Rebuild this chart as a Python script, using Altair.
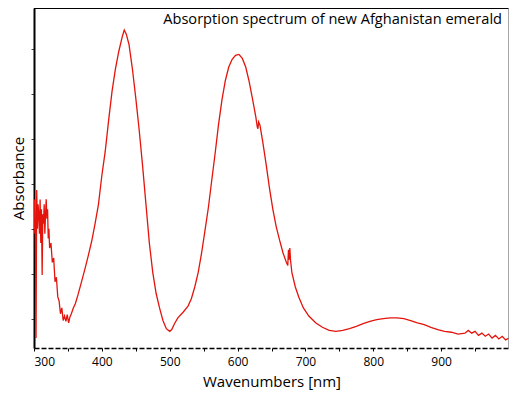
import altair as alt
import pandas as pd

wavelength = [
    300, 301, 302, 303, 304, 305, 306, 307, 308, 309, 310, 311, 312, 313, 314, 315, 316, 317, 318, 319,
    320, 321, 322, 323, 325, 327, 329, 331, 333, 335, 337, 339, 341, 343, 345, 347, 349, 351, 353, 355,
    358, 361, 365, 370, 375, 380, 385, 390, 395, 400, 405, 410, 415, 420, 425, 430, 433, 436, 440, 445,
    450, 455, 460, 465, 470, 475, 480, 485, 490, 495, 500, 503, 507, 512, 520, 527, 532, 537, 542, 547,
    552, 557, 562, 567, 572, 577, 582, 587, 592, 597, 602, 607, 612, 617, 622, 627, 629, 630, 631, 633,
    637, 642, 647, 652, 657, 662, 667, 672, 674, 675, 676, 677, 678, 680, 685, 690, 697, 705, 715, 725,
    735, 745, 755, 765, 775, 785, 795, 805, 815, 825, 835, 845, 855, 865, 875, 885, 895, 905, 915, 925,
    935, 940, 945, 950, 955, 960, 965, 970, 975, 980, 985, 990, 995, 1000,
]
absorbance = [
    0.189, 0.265, 0.211, -0.043, 0.286, 0.200, 0.254, 0.232, 0.189, 0.265, 0.168, 0.243, 0.097, 0.232, 0.211, 0.254, 0.189, 0.232, 0.265, 0.222,
    0.243, 0.178, 0.200, 0.157, 0.168, 0.125, 0.135, 0.082, 0.092, 0.049, 0.039, 0.011, 0.024, -0.004, 0.006, -0.006, 0.009, -0.009, 0.004, 0.011,
    0.024, 0.034, 0.054, 0.082, 0.110, 0.140, 0.172, 0.211, 0.254, 0.318, 0.372, 0.441, 0.505, 0.555, 0.594, 0.626, 0.641, 0.632, 0.609, 0.555,
    0.490, 0.419, 0.340, 0.254, 0.168, 0.103, 0.056, 0.024, -0.004, -0.022, -0.028, -0.024, -0.011, 0.002, 0.015, 0.028, 0.045, 0.071, 0.103, 0.146,
    0.196, 0.247, 0.308, 0.368, 0.432, 0.486, 0.529, 0.559, 0.576, 0.585, 0.587, 0.578, 0.559, 0.527, 0.488, 0.447, 0.426, 0.422, 0.437, 0.430,
    0.394, 0.344, 0.290, 0.243, 0.204, 0.174, 0.146, 0.125, 0.118, 0.153, 0.131, 0.157, 0.131, 0.103, 0.071, 0.049, 0.024, 0.006, -0.009, -0.019,
    -0.026, -0.028, -0.026, -0.022, -0.017, -0.011, -0.006, -0.002, 0.000, 0.002, 0.002, 0.000, -0.004, -0.009, -0.013, -0.019, -0.024, -0.028, -0.030, -0.034,
    -0.032, -0.026, -0.032, -0.028, -0.037, -0.032, -0.039, -0.034, -0.043, -0.037, -0.045, -0.039, -0.047, -0.043,
]
x_ticks = [300, 350, 400, 450, 500, 550, 600, 650, 700, 750, 800, 850, 900, 950, 1000]
y_ticks = [0.0, 0.1, 0.2, 0.3, 0.4, 0.5, 0.6]
title_text = "Absorption spectrum of new Afghanistan emerald"

df = pd.DataFrame({"wavelength": wavelength, "absorbance": absorbance})

W, H = 475, 340
FONT = "Open Sans"

line = alt.Chart(df).mark_line(color="#e3140c", strokeWidth=1.3, clip=True).encode(
    x=alt.X("wavelength:Q",
            scale=alt.Scale(domain=[300, 1000], nice=False, zero=False),
            axis=alt.Axis(values=x_ticks, title="Wavenumbers [nm]", grid=False,
                          labelExpr="datum.value % 100 == 0 && datum.value < 1000 ? datum.label : ''",
                          labelFont=FONT, labelFontSize=12, labelColor="black",
                          titleFont=FONT, titleFontSize=15, titleFontWeight="normal", titleColor="black",
                          titlePadding=7, labelPadding=5,
                          tickSize=3, tickColor="black", domainColor="black", domainWidth=1.5,
                          domainDash=[5, 2])),
    y=alt.Y("absorbance:Q",
            scale=alt.Scale(domain=[-0.065, 0.69], nice=False, zero=False),
            axis=alt.Axis(values=y_ticks, title="Absorbance", grid=False, labels=False,
                          titleFont=FONT, titleFontSize=15, titleFontWeight="normal", titleColor="black",
                          titleX=-11, titleBaseline="alphabetic",
                          tickSize=3, tickColor="#444", domainColor="black", domainWidth=2)),
)

top_border = alt.Chart().mark_rule(color="black", strokeWidth=2).encode(
    x=alt.value(0), x2=alt.value(W), y=alt.value(0))
right_border = alt.Chart().mark_rule(color="#888", strokeWidth=1.5).encode(
    x=alt.value(W), y=alt.value(0), y2=alt.value(H))

title = alt.Chart().mark_text(font=FONT, fontSize=14.6, align="right", baseline="alphabetic",
                              color="black").encode(
    x=alt.value(468), y=alt.value(16), text=alt.value(title_text))

chart = alt.layer(line, top_border, right_border, title).properties(
    width=W, height=H,
    autosize=alt.AutoSizeParams(type="none"),
    padding={"left": 26, "top": 0, "right": 0, "bottom": 42},
).configure_view(stroke=None)

chart.save("out.html", embed_options={"renderer": "svg", "actions": False})
